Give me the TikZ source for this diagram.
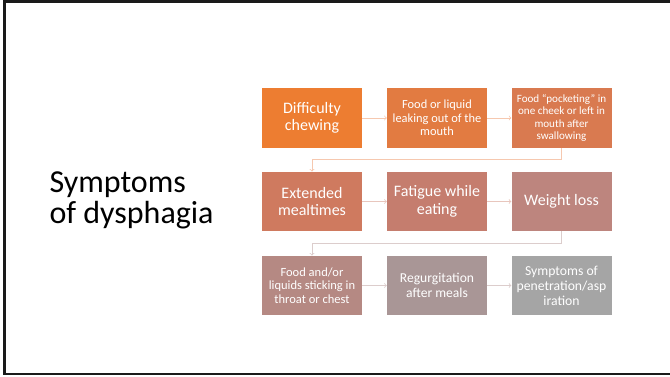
\documentclass[tikz,border=0pt]{standalone}
\usepackage{fontspec}
\usepackage{tikz}
\usepackage{xcolor}
\usetikzlibrary{arrows}
\setmainfont{Carlito}

\definecolor{boxA}{HTML}{ED7D31}
\definecolor{boxB}{HTML}{E27B41}
\definecolor{boxC}{HTML}{D97A50}
\definecolor{boxD}{HTML}{CF7A5F}
\definecolor{boxE}{HTML}{C57D6E}
\definecolor{boxF}{HTML}{BD857E}
\definecolor{boxG}{HTML}{B58983}
\definecolor{boxH}{HTML}{A99696}
\definecolor{boxI}{HTML}{A5A5A5}
\definecolor{linkA}{HTML}{F6C8AF}
\definecolor{linkB}{HTML}{E8C6BD}
\definecolor{linkC}{HTML}{DCCDCC}
\definecolor{framegray}{HTML}{1A1A1A}

\begin{document}
\begin{tikzpicture}[x=1pt,y=-1pt,
  box/.style={minimum width=100pt,minimum height=59.5pt,inner sep=2pt,align=center,text=white},
  big/.style={font=\fontsize{16}{17.5}\selectfont},
  link/.style={->,line width=0.8pt}]
\useasboundingbox (0,0) rectangle (670,376);
\draw[line width=2.7pt,color=framegray] (690,1.3) -- (4.7,1.3) -- (4.7,374) -- (690,374);

\node[anchor=base west,align=left,font=\fontsize{32}{31.5}\selectfont] (title) at (46,223.5) {Symptoms\\of dysphagia};

% first row
\node[box,big,fill=boxA] (chew) at (312,118) {Difficulty\\chewing};
\node[box,fill=boxB,font=\fontsize{12.4}{13.4}\selectfont] (leak) at (437,118) {Food or liquid\\leaking out of the\\mouth};
\node[box,fill=boxC,font=\fontsize{11.1}{12.6}\selectfont] (pocket) at (561.5,118) {Food ``pocketing'' in\\one cheek or left in\\mouth after\\swallowing};

% second row
\node[box,big,fill=boxD] (meal) at (312,201.5) {Extended\\mealtimes};
\node[box,big,fill=boxE] (fatigue) at (437,201.5) {Fatigue while\\eating};
\node[box,big,fill=boxF] (weight) at (561.5,201.5) {Weight loss};

% third row
\node[box,fill=boxG,font=\fontsize{12.5}{13.5}\selectfont] (stick) at (312,285.5) {Food and/or\\liquids sticking in\\throat or chest};
\node[box,fill=boxH,font=\fontsize{13.6}{14.5}\selectfont] (regurg) at (437,285.5) {Regurgitation\\after meals};
\node[box,fill=boxI,font=\fontsize{13.7}{15}\selectfont] (aspir) at (561.5,285.5) {Symptoms of\\penetration/asp\\iration};

\draw[link,linkA] (chew) -- (leak);
\draw[link,linkA] (leak) -- (pocket);
\draw[link,linkA] (pocket.south) -- ++(0,11.5) -| (meal.north);
\draw[link,linkB] (meal) -- (fatigue);
\draw[link,linkB] (fatigue) -- (weight);
\draw[link,linkC] (weight.south) -- ++(0,12) -| (stick.north);
\draw[link,linkC] (stick) -- (regurg);
\draw[link,linkC] (regurg) -- (aspir);

\end{tikzpicture}
\end{document}
